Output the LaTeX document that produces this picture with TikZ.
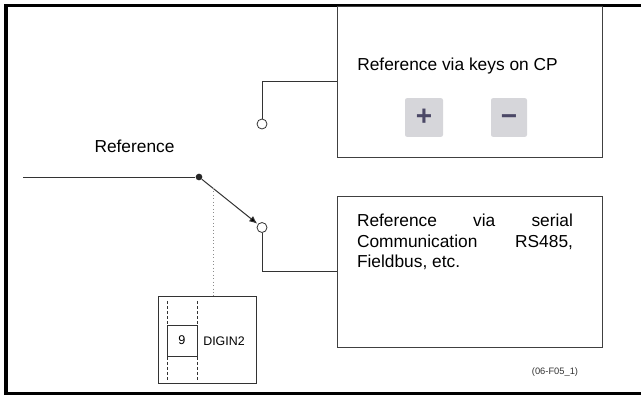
\documentclass[tikz,border=0pt]{standalone}
\usepackage{fontspec}
\setmainfont{Liberation Sans}
\usetikzlibrary{arrows.meta}

\definecolor{keygray}{HTML}{D6D6DA}
\definecolor{keysign}{HTML}{4B4866}

\tikzset{
    box/.style={draw=black!75, line width=0.75pt, minimum width=198.75pt, minimum height=113.25pt},
    wire/.style={draw=black!80, line width=0.75pt},
    contact/.style={shape=circle, draw=black!80, fill=white, line width=0.6pt, inner sep=0pt, minimum size=7.5pt},
    key/.style={fill=keygray, rounded corners=1.5pt, inner sep=0pt, minimum height=29pt, text=keysign, font=\bfseries\fontsize{21}{21}\selectfont}
}

\begin{document}
\begin{tikzpicture}[x=0.75pt, y=-0.75pt, font=\fontsize{13}{15.4}\selectfont]
            \useasboundingbox (0,0) rectangle (641,396);
            \draw[line width=2.4pt] (6,5.5) rectangle (680,393.5);

            \node[box] (keys) at (469.5, 81.5){};
            \node (keystext) at (457.5, 66){Reference via keys on CP};
            \node[key, minimum width=28.5pt] (plus) at (424, 117.5){+};
            \node[key, minimum width=27pt] (minus) at (509, 117.5){\vphantom{+}−};

            \node[box] (serial) at (469.5, 271.5){};
            \node[align=left, inner sep=0pt] (serialtext) at (465, 242){%
                \hbox to 162pt{Reference\hfill via\hfill serial}\\
                \hbox to 162pt{Communication\hfill RS485,}\\
                \hbox to 162pt{Fieldbus, etc.\hfill}};

            \node (reftext) at (134.5, 146){Reference};
            \coordinate (in) at (23, 177);
            \node[shape=circle, fill=black!85, inner sep=0pt, minimum size=5pt] (pivot) at (199, 177){};
            \node[contact] (c1) at (262, 124){};
            \node[contact] (c2) at (262, 227.5){};

            \node[draw=black!80, line width=0.75pt, minimum width=73.5pt, minimum height=65.25pt] (digin) at (207, 339.5){};
            \node[draw=black!80, line width=0.75pt, minimum width=22.5pt, minimum height=23.25pt, font=\fontsize{9.5}{11}\selectfont] (nine) at (182, 340.5){9};
            \node[font=\fontsize{9.3}{11}\selectfont] (digintext) at (224, 341){DIGIN2};
            \draw[black!80, dashed, line width=0.6pt, dash pattern=on 2.2pt off 1.6pt] (167, 301) -- (167, 380);
            \draw[black!80, dashed, line width=0.6pt, dash pattern=on 2.2pt off 1.6pt] (197, 301) -- (197, 380);

            \node[font=\fontsize{7}{8}\selectfont, text=black!80] (code) at (555, 372){(06-F05\_1)};

            \path [wire] (in) edge (pivot);
            \path [wire] (c1) |- (keys.west);
            \path [wire] (c2) |- (serial.west);
            \path [wire, -{Latex[length=6pt, width=5pt]}, shorten >=0.5pt] (pivot) edge (c2);

            \coordinate (tap) at (213, 188);
            \draw[black!45, dotted, line width=0.6pt] (tap) -- (tap |- digin.north);
        \end{tikzpicture}
\end{document}
